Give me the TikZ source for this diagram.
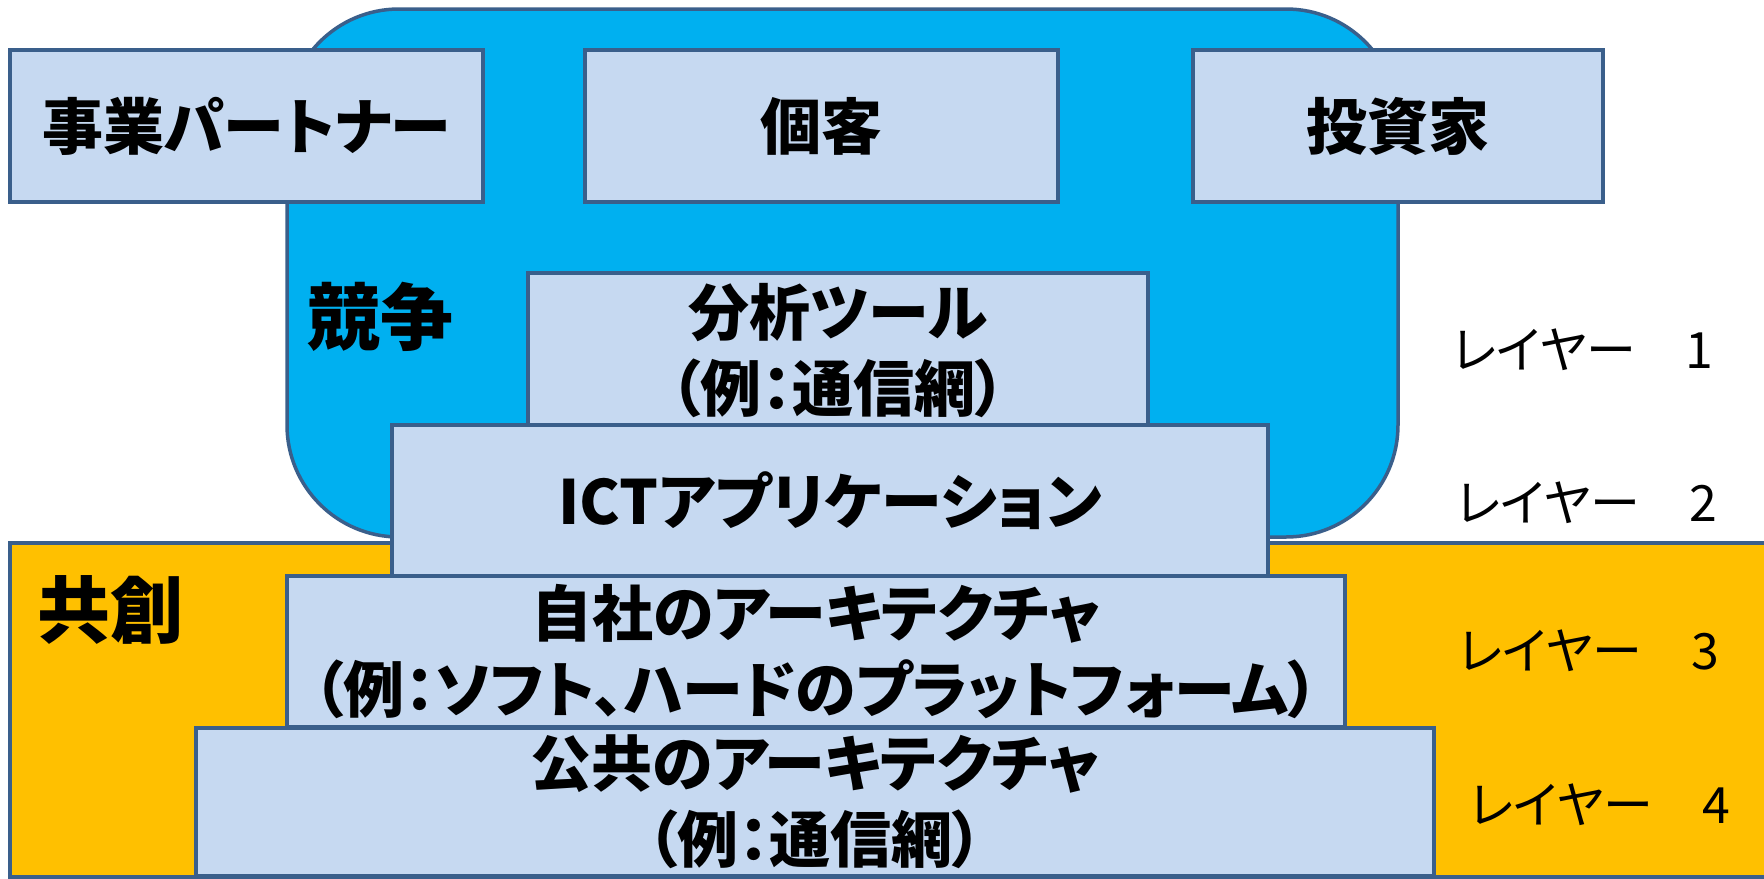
\documentclass[tikz,border=0pt]{standalone}
\usepackage{fontspec}
\setmainfont{Noto Sans CJK JP}[RawFeature=+palt]
\definecolor{edgeblue}{HTML}{3A5F8B}
\definecolor{tierfill}{HTML}{C6D9F1}
\definecolor{compblue}{HTML}{00B0F0}
\definecolor{coorange}{HTML}{FFC000}

\begin{document}
\begin{tikzpicture}[x=1pt, y=-1pt,
  zone/.style={draw=edgeblue, line width=3.5pt},
  tier/.style={draw=edgeblue, fill=tierfill, line width=3.5pt, inner sep=0pt, align=center,
    font=\bfseries\fontsize{61}{76}\selectfont},
  zonelabel/.style={font=\bfseries\fontsize{73}{75}\selectfont},
  layerlabel/.style={font=\fontsize{50}{54}\selectfont}]
\useasboundingbox (0,0) rectangle (1764,878);
% competition and co-creation areas
\draw[zone, fill=compblue, rounded corners=112pt] (287,9) rectangle (1398,537);
\draw[zone, fill=coorange] (10,543) rectangle (1800,877);
% stakeholders
\node[tier, minimum width=473pt, minimum height=152pt] (partner) at (246.5,126) {事業パートナー};
\node[tier, minimum width=473pt, minimum height=152pt] (customer) at (821.5,126) {個客};
\node[tier, minimum width=410pt, minimum height=152pt] (investor) at (1398,126) {投資家};
% layers, bottom box drawn last
\node[tier, minimum width=620pt, minimum height=156pt] (tool) at (838,351) {分析ツール\\（例：通信網）};
\node[tier, minimum width=876pt, minimum height=151pt] (ictapp) at (830,500.5) {ICTアプリケーション};
\node[tier, minimum width=1058pt, minimum height=151pt] (ownarch) at (816,651.5) {自社のアーキテクチャ\\（例：ソフト、ハードのプラットフォーム）};
\node[tier, minimum width=1238pt, minimum height=148pt] (pubarch) at (815,802) {公共のアーキテクチャ\\（例：通信網）};
\node[zonelabel] (compete) at (380,317) {競争};
\node[zonelabel] (cocreate) at (110,610) {共創};
\foreach \n/\x/\y in {1/1583/350, 2/1587/503, 3/1589/651, 4/1600/805}
  \node[layerlabel] (layer\n) at (\x,\y) {レイヤー　\n};
\end{tikzpicture}
\end{document}
